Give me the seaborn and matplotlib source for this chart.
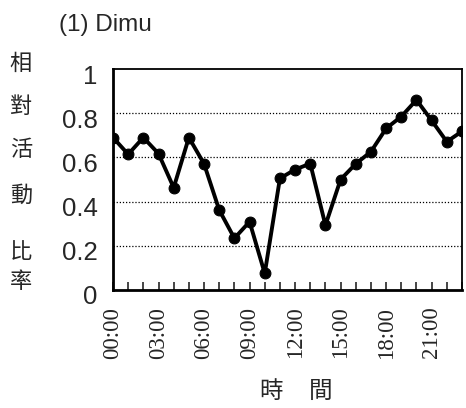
import numpy as np
import seaborn as sns
import matplotlib.transforms as mtransforms
from matplotlib import pyplot as plt

hours = [f"{h:02d}:00" for h in range(24)]
activity = [0.69, 0.614, 0.69, 0.617, 0.463, 0.69, 0.571, 0.362, 0.234, 0.309, 0.075, 0.505,
            0.545, 0.572, 0.293, 0.50, 0.571, 0.626, 0.731, 0.785, 0.860, 0.767, 0.671, 0.718]
y_ticks = [0, 0.2, 0.4, 0.6, 0.8, 1]
y_tick_labels = ["0", "0.2", "0.4", "0.6", "0.8", "1"]
ylabel_chars = ["相", "對", "活", "動", "比", "率"]

sns.set_style("white")
plt.rcParams["font.family"] = ["Liberation Sans Narrow", "Liberation Sans", "DejaVu Sans"]
cjk = ["Noto Sans CJK TC", "DejaVu Sans"]

fig = plt.figure(figsize=(4.66, 4.08), dpi=100)
ax = fig.add_axes([113 / 466, 1 - 290 / 408, 349 / 466, 221 / 408])

x = np.arange(len(hours))
sns.lineplot(x=x, y=activity, ax=ax, color="black", linewidth=2.8,
             marker="o", markersize=7.8, markeredgecolor="black")

ax.set_xlim(0, 23)
ax.set_ylim(0, 1)
for v in y_ticks[1:-1]:
    ax.axhline(v, color="black", linestyle=(0, (1, 1.5)), linewidth=0.9, zorder=0)

ax.set_yticks(y_ticks)
ax.set_yticklabels(y_tick_labels, fontsize=18.5)
ax.set_xticks(x)
ax.set_xticklabels([h if i % 3 == 0 else "" for i, h in enumerate(hours)],
                   rotation=90, fontsize=16.5, family="Liberation Serif")
ax.tick_params(axis="x", direction="in", length=6, width=1.2, pad=12, bottom=True)
ax.tick_params(axis="y", length=0, pad=11)
# labels sit a little below their gridlines, as in the original
shift = mtransforms.ScaledTranslation(0, -5 / 100, fig.dpi_scale_trans)
for lbl in ax.get_yticklabels():
    lbl.set_transform(lbl.get_transform() + shift)
for sp in ax.spines.values():
    sp.set_color("black")
    sp.set_linewidth(1.3)
ax.spines["left"].set_linewidth(2)
ax.spines["bottom"].set_linewidth(2)

fig.text(59 / 466, 1 - 25 / 408, "(1) Dimu", fontsize=17.5, va="center", ha="left")
ypos = [63, 106, 150, 195, 252, 281]
for ch, yp in zip(ylabel_chars, ypos):
    fig.text(21 / 466, 1 - yp / 408, ch, fontsize=16, family=cjk, ha="center", va="center")
for ch, xp in zip(["時", "間"], [271, 321]):
    fig.text(xp / 466, 1 - 391 / 408, ch, fontsize=17, family=cjk, ha="center", va="center")

fig.savefig("out.png", dpi=100)
